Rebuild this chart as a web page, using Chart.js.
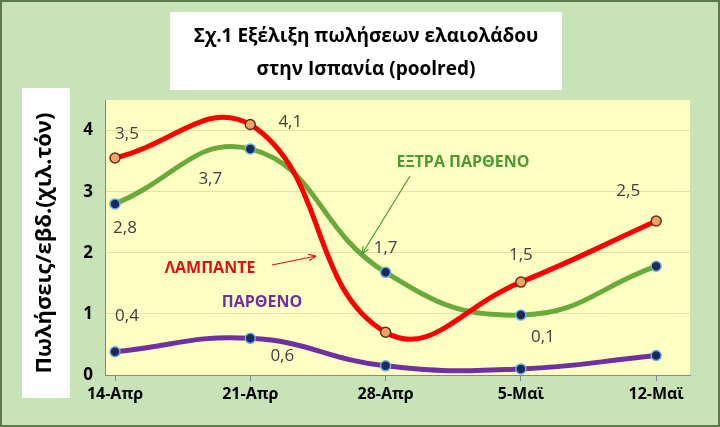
<!DOCTYPE html><html><head><meta charset="utf-8">
<script src="https://cdn.jsdelivr.net/npm/chart.js@4"></script>
<style>html,body{margin:0;padding:0;background:#c9e3b8}#w{width:720px;height:427px}</style></head><body>
<div id="w"><canvas id="c" width="720" height="427"></canvas></div>
<script>
const categories=['14-Απρ','21-Απρ','28-Απρ','5-Μαϊ','12-Μαϊ'];
const lampante=[3.55,4.1,0.7,1.52,2.52];
const extra=[2.8,3.7,1.68,0.98,1.78];
const partheno=[0.38,0.6,0.15,0.1,0.32];
const yTicks=[0,1,2,3,4];
const pts=a=>a.map((v,i)=>({x:i,y:v}));
const labels=[ // dataset, index, text, dx, dy
 [0,0,'3,5',12,-24],[0,1,'4,1',40,-2],[1,1,'3,7',-40,30],[1,0,'2,8',10,24],
 [1,2,'1,7',0,-24],[0,3,'1,5',0,-27],[1,3,'0,1',22,22],[0,4,'2,5',-28,-30],
 [2,0,'0,4',12,-36],[2,1,'0,6',32,18]];
const deco={id:'deco',
 beforeDraw(ch){const c=ch.ctx,a=ch.chartArea;c.save();
  c.fillStyle='#c9e3b8';c.fillRect(0,0,720,427);
  c.strokeStyle='#5a7a4a';c.lineWidth=2;c.strokeRect(1,1,718,425);
  c.fillStyle='#ffffc4';c.fillRect(a.left,a.top,a.right-a.left,a.bottom-a.top);
  c.fillStyle='#fff';c.fillRect(170,12,392,78);c.fillRect(22,88,48,310);
  c.fillStyle='#000';c.textAlign='center';c.textBaseline='middle';
  c.font='bold 19px "Open Sans"';c.fillText('Σχ.1 Εξέλιξη πωλήσεων ελαιολάδου',366,37);
  c.fillText('στην Ισπανία (poolred)',366,70);
  c.translate(45,243);c.rotate(-Math.PI/2);c.font='bold 22px "Open Sans"';
  c.fillText('Πωλήσεις/εβδ.(χιλ.τόν)',0,0);c.restore();},
 afterDatasetsDraw(ch){const c=ch.ctx;c.save();c.textAlign='center';c.textBaseline='middle';
  c.font='17px "Open Sans"';c.fillStyle='#404040';
  labels.forEach(([d,i,t,dx,dy])=>{const e=ch.getDatasetMeta(d).data[i];c.fillText(t,e.x+dx,e.y+dy);});
  c.font='bold 16px "Open Sans"';
  c.fillStyle='#e01010';c.fillText('ΛΑΜΠΑΝΤΕ',210,268);
  c.fillStyle='#4a9a30';c.fillText('ΕΞΤΡΑ ΠΑΡΘΕΝΟ',463,162);
  c.fillStyle='#7030a0';c.fillText('ΠΑΡΘΕΝΟ',262,302);
  const arrow=(x1,y1,x2,y2,col)=>{c.strokeStyle=col;c.lineWidth=1.2;c.beginPath();c.moveTo(x1,y1);c.lineTo(x2,y2);c.stroke();
   const an=Math.atan2(y2-y1,x2-x1);c.beginPath();c.moveTo(x2,y2);c.lineTo(x2-8*Math.cos(an-0.4),y2-8*Math.sin(an-0.4));
   c.moveTo(x2,y2);c.lineTo(x2-8*Math.cos(an+0.4),y2-8*Math.sin(an+0.4));c.stroke();};
  arrow(272,265,316,256,'#e01010');arrow(410,176,362,254,'#4a9a30');c.restore();}};
const ds=(l,d,col,pf,pb)=>({label:l,data:pts(d),borderColor:col,borderWidth:5,tension:0.45,
  pointRadius:5,pointBackgroundColor:pf,pointBorderColor:pb,pointBorderWidth:1.5});
new Chart(document.getElementById('c'),{type:'line',
 data:{datasets:[ds('ΛΑΜΠΑΝΤΕ',lampante,'#ff0000','#f4a460','#603020'),
  ds('ΕΞΤΡΑ ΠΑΡΘΕΝΟ',extra,'#6aaa3a','#1a2a5a','#6ab0e0'),
  ds('ΠΑΡΘΕΝΟ',partheno,'#7030a0','#1a2a5a','#6ab0e0')]},
 options:{responsive:false,animation:false,layout:{padding:{top:100,right:30,left:0,bottom:0}},
  plugins:{legend:{display:false},tooltip:{enabled:false}},
  scales:{x:{type:'linear',min:-0.074,max:4.25,afterFit:s=>{s.height=52},
    afterBuildTicks:s=>{s.ticks=categories.map((_,i)=>({value:i}))},
    ticks:{callback:v=>categories[v],color:'#000',font:{size:16,weight:'bold',family:'"Open Sans"'},padding:4},
    grid:{display:true,drawOnChartArea:false,color:'#888',tickLength:6},border:{color:'#888'}},
   y:{min:0,max:4.5,afterFit:s=>{s.width=105},
    afterBuildTicks:s=>{s.ticks=yTicks.map(v=>({value:v}))},
    ticks:{color:'#000',font:{size:17,weight:'bold',family:'"Open Sans"'},padding:6},
    grid:{color:'#e6e0b0',tickLength:6},border:{color:'#888'}}}},
 plugins:[deco]});
</script></body></html>
